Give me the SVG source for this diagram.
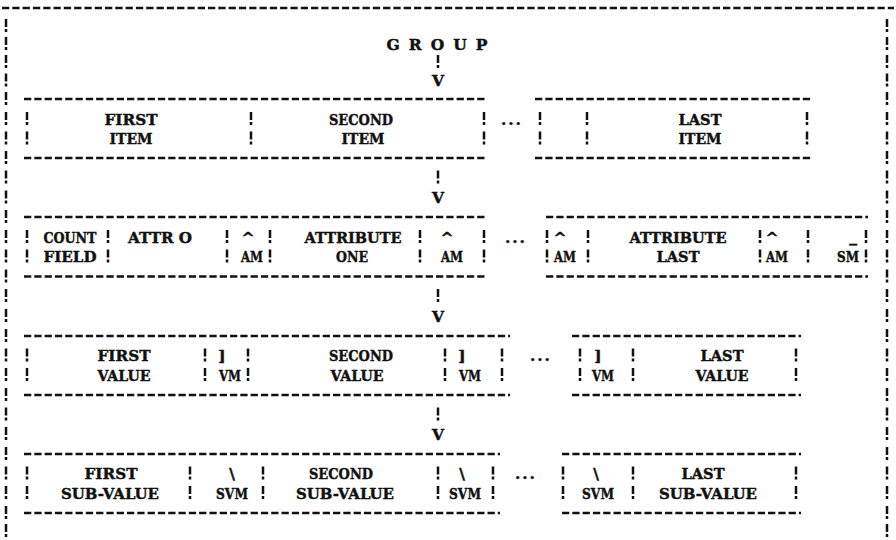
<svg xmlns="http://www.w3.org/2000/svg" width="896" height="540" viewBox="0 0 896 540">
<style>
.hd{stroke:#111;stroke-width:2.3;stroke-dasharray:7.3 3;fill:none}
.vb{stroke:#111;stroke-width:2.5;stroke-dasharray:8 2 3 6.5;fill:none}
.bm{stroke:#111;stroke-width:2.5;fill:none}
.t{font-family:"DejaVu Serif","Liberation Serif",serif;font-weight:bold;font-size:15.5px;fill:#111;stroke:#111;stroke-width:0.45;text-anchor:middle}
</style>
<defs>
<path id="m" class="bm" d="M0,-7V1M0,3V6"/>
</defs>
<rect width="896" height="540" fill="#fff"/>
<g id="frame">
<line class="hd" x1="2" y1="8" x2="894" y2="8"/>
<g id="border-left">
<use href="#m" x="6" y="26"/><use href="#m" x="6" y="44"/><use href="#m" x="6" y="62"/><use href="#m" x="6" y="80.5"/><use href="#m" x="6" y="99"/><use href="#m" x="6" y="119"/><use href="#m" x="6" y="138.5"/><use href="#m" x="6" y="158"/><use href="#m" x="6" y="177.5"/><use href="#m" x="6" y="197.5"/><use href="#m" x="6" y="217"/><use href="#m" x="6" y="237"/><use href="#m" x="6" y="256.5"/><use href="#m" x="6" y="276.5"/><use href="#m" x="6" y="296"/><use href="#m" x="6" y="316"/><use href="#m" x="6" y="336"/><use href="#m" x="6" y="355.5"/><use href="#m" x="6" y="375"/><use href="#m" x="6" y="395"/><use href="#m" x="6" y="414.5"/><use href="#m" x="6" y="434"/><use href="#m" x="6" y="454"/><use href="#m" x="6" y="473.5"/><use href="#m" x="6" y="493"/><use href="#m" x="6" y="513"/><use href="#m" x="6" y="531"/>
</g>
<g id="border-right">
<use href="#m" x="887" y="26"/><use href="#m" x="887" y="44"/><use href="#m" x="887" y="62"/><use href="#m" x="887" y="80.5"/><use href="#m" x="887" y="99"/><use href="#m" x="887" y="119"/><use href="#m" x="887" y="138.5"/><use href="#m" x="887" y="158"/><use href="#m" x="887" y="177.5"/><use href="#m" x="887" y="197.5"/><use href="#m" x="887" y="217"/><use href="#m" x="887" y="237"/><use href="#m" x="887" y="256.5"/><use href="#m" x="887" y="276.5"/><use href="#m" x="887" y="296"/><use href="#m" x="887" y="316"/><use href="#m" x="887" y="336"/><use href="#m" x="887" y="355.5"/><use href="#m" x="887" y="375"/><use href="#m" x="887" y="395"/><use href="#m" x="887" y="414.5"/><use href="#m" x="887" y="434"/><use href="#m" x="887" y="454"/><use href="#m" x="887" y="473.5"/><use href="#m" x="887" y="493"/><use href="#m" x="887" y="513"/><use href="#m" x="887" y="531"/>
</g>
</g>
<g id="group-title">
<text class="t" x="437" y="49.5" textLength="101" lengthAdjust="spacing">G R O U P</text>
</g>
<g id="connectors">
<use href="#m" x="438" y="62"/>
<text class="t" x="438" y="86">V</text>
<use href="#m" x="438" y="177.5"/>
<text class="t" x="438" y="203">V</text>
<use href="#m" x="438" y="296"/>
<text class="t" x="438" y="321.5">V</text>
<use href="#m" x="438" y="414.5"/>
<text class="t" x="438" y="439.5">V</text>
</g>
<g id="item-left">
<line class="hd" x1="24" y1="99" x2="487" y2="99"/>
<line class="hd" x1="24" y1="158" x2="487" y2="158"/>
<line class="vb" x1="27" y1="112" x2="27" y2="144.5"/>
<line class="vb" x1="251" y1="112" x2="251" y2="144.5"/>
<line class="vb" x1="484" y1="112" x2="484" y2="144.5"/>
<text class="t" x="131" y="124.5" textLength="53" lengthAdjust="spacingAndGlyphs">FIRST</text>
<text class="t" x="131" y="144" textLength="43" lengthAdjust="spacingAndGlyphs">ITEM</text>
<text class="t" x="361" y="124.5" textLength="64" lengthAdjust="spacingAndGlyphs">SECOND</text>
<text class="t" x="363" y="144" textLength="43" lengthAdjust="spacingAndGlyphs">ITEM</text>
</g>
<g id="item-ellipsis"><text class="t" x="511" y="124.5" textLength="20" lengthAdjust="spacing">...</text></g>
<g id="item-right">
<line class="hd" x1="535" y1="99" x2="811" y2="99"/>
<line class="hd" x1="535" y1="158" x2="811" y2="158"/>
<line class="vb" x1="540" y1="112" x2="540" y2="144.5"/>
<line class="vb" x1="587" y1="112" x2="587" y2="144.5"/>
<line class="vb" x1="807" y1="112" x2="807" y2="144.5"/>
<text class="t" x="700" y="124.5" textLength="43" lengthAdjust="spacingAndGlyphs">LAST</text>
<text class="t" x="700" y="144" textLength="43" lengthAdjust="spacingAndGlyphs">ITEM</text>
</g>
<g id="attribute-left">
<line class="hd" x1="24" y1="217" x2="487" y2="217"/>
<line class="hd" x1="24" y1="276.5" x2="487" y2="276.5"/>
<line class="vb" x1="27" y1="230" x2="27" y2="262.5"/>
<line class="vb" x1="108" y1="230" x2="108" y2="262.5"/>
<line class="vb" x1="227" y1="230" x2="227" y2="262.5"/>
<line class="vb" x1="270" y1="230" x2="270" y2="262.5"/>
<line class="vb" x1="420" y1="230" x2="420" y2="262.5"/>
<line class="vb" x1="484" y1="230" x2="484" y2="262.5"/>
<text class="t" x="70" y="242.5" textLength="53" lengthAdjust="spacingAndGlyphs">COUNT</text>
<text class="t" x="160" y="242.5" textLength="64" lengthAdjust="spacingAndGlyphs">ATTR O</text>
<text class="t" x="248" y="242.5">^</text>
<text class="t" x="353" y="242.5" textLength="97" lengthAdjust="spacingAndGlyphs">ATTRIBUTE</text>
<text class="t" x="447" y="242.5">^</text>
<text class="t" x="70" y="262" textLength="53" lengthAdjust="spacingAndGlyphs">FIELD</text>
<text class="t" x="252" y="262" textLength="22" lengthAdjust="spacingAndGlyphs">AM</text>
<text class="t" x="352" y="262" textLength="32" lengthAdjust="spacingAndGlyphs">ONE</text>
<text class="t" x="452" y="262" textLength="22" lengthAdjust="spacingAndGlyphs">AM</text>
</g>
<g id="attribute-ellipsis"><text class="t" x="515" y="242.5" textLength="20" lengthAdjust="spacing">...</text></g>
<g id="attribute-right">
<line class="hd" x1="546" y1="217" x2="868" y2="217"/>
<line class="hd" x1="546" y1="276.5" x2="868" y2="276.5"/>
<line class="vb" x1="547" y1="230" x2="547" y2="262.5"/>
<line class="vb" x1="588" y1="230" x2="588" y2="262.5"/>
<line class="vb" x1="760" y1="230" x2="760" y2="262.5"/>
<line class="vb" x1="808" y1="230" x2="808" y2="262.5"/>
<line class="vb" x1="866" y1="230" x2="866" y2="262.5"/>
<text class="t" x="560" y="242.5">^</text>
<text class="t" x="678" y="242.5" textLength="97" lengthAdjust="spacingAndGlyphs">ATTRIBUTE</text>
<text class="t" x="772" y="242.5">^</text>
<text class="t" x="853" y="242">_</text>
<text class="t" x="565" y="262" textLength="22" lengthAdjust="spacingAndGlyphs">AM</text>
<text class="t" x="678" y="262" textLength="43" lengthAdjust="spacingAndGlyphs">LAST</text>
<text class="t" x="777" y="262" textLength="22" lengthAdjust="spacingAndGlyphs">AM</text>
<text class="t" x="848" y="262" textLength="22" lengthAdjust="spacingAndGlyphs">SM</text>
</g>
<g id="value-left">
<line class="hd" x1="24" y1="336" x2="510" y2="336"/>
<line class="hd" x1="24" y1="395" x2="510" y2="395"/>
<line class="vb" x1="27" y1="348.5" x2="27" y2="381"/>
<line class="vb" x1="205" y1="348.5" x2="205" y2="381"/>
<line class="vb" x1="248" y1="348.5" x2="248" y2="381"/>
<line class="vb" x1="445" y1="348.5" x2="445" y2="381"/>
<line class="vb" x1="502" y1="348.5" x2="502" y2="381"/>
<text class="t" x="124" y="361" textLength="53" lengthAdjust="spacingAndGlyphs">FIRST</text>
<text class="t" x="222" y="361">]</text>
<text class="t" x="361" y="361" textLength="64" lengthAdjust="spacingAndGlyphs">SECOND</text>
<text class="t" x="462" y="361">]</text>
<text class="t" x="124" y="380.5" textLength="53" lengthAdjust="spacingAndGlyphs">VALUE</text>
<text class="t" x="230" y="380.5" textLength="22" lengthAdjust="spacingAndGlyphs">VM</text>
<text class="t" x="357" y="380.5" textLength="53" lengthAdjust="spacingAndGlyphs">VALUE</text>
<text class="t" x="470" y="380.5" textLength="22" lengthAdjust="spacingAndGlyphs">VM</text>
</g>
<g id="value-ellipsis"><text class="t" x="540" y="361" textLength="20" lengthAdjust="spacing">...</text></g>
<g id="value-right">
<line class="hd" x1="572" y1="336" x2="801" y2="336"/>
<line class="hd" x1="572" y1="395" x2="801" y2="395"/>
<line class="vb" x1="580" y1="348.5" x2="580" y2="381"/>
<line class="vb" x1="633" y1="348.5" x2="633" y2="381"/>
<line class="vb" x1="796" y1="348.5" x2="796" y2="381"/>
<text class="t" x="598" y="361">]</text>
<text class="t" x="722" y="361" textLength="43" lengthAdjust="spacingAndGlyphs">LAST</text>
<text class="t" x="603" y="380.5" textLength="22" lengthAdjust="spacingAndGlyphs">VM</text>
<text class="t" x="722" y="380.5" textLength="53" lengthAdjust="spacingAndGlyphs">VALUE</text>
</g>
<g id="subvalue-left">
<line class="hd" x1="24" y1="454" x2="500" y2="454"/>
<line class="hd" x1="24" y1="513" x2="500" y2="513"/>
<line class="vb" x1="27" y1="466.5" x2="27" y2="499"/>
<line class="vb" x1="190" y1="466.5" x2="190" y2="499"/>
<line class="vb" x1="263" y1="466.5" x2="263" y2="499"/>
<line class="vb" x1="438" y1="466.5" x2="438" y2="499"/>
<line class="vb" x1="493" y1="466.5" x2="493" y2="499"/>
<text class="t" x="111" y="479" textLength="53" lengthAdjust="spacingAndGlyphs">FIRST</text>
<text class="t" x="232" y="479">\</text>
<text class="t" x="341" y="479" textLength="64" lengthAdjust="spacingAndGlyphs">SECOND</text>
<text class="t" x="462" y="479">\</text>
<text class="t" x="110" y="498.5" textLength="98" lengthAdjust="spacingAndGlyphs">SUB-VALUE</text>
<text class="t" x="232" y="498.5" textLength="32" lengthAdjust="spacingAndGlyphs">SVM</text>
<text class="t" x="345" y="498.5" textLength="98" lengthAdjust="spacingAndGlyphs">SUB-VALUE</text>
<text class="t" x="465" y="498.5" textLength="32" lengthAdjust="spacingAndGlyphs">SVM</text>
</g>
<g id="subvalue-ellipsis"><text class="t" x="525" y="479" textLength="20" lengthAdjust="spacing">...</text></g>
<g id="subvalue-right">
<line class="hd" x1="562" y1="454" x2="801" y2="454"/>
<line class="hd" x1="562" y1="513" x2="801" y2="513"/>
<line class="vb" x1="563" y1="466.5" x2="563" y2="499"/>
<line class="vb" x1="633" y1="466.5" x2="633" y2="499"/>
<line class="vb" x1="796" y1="466.5" x2="796" y2="499"/>
<text class="t" x="596" y="479">\</text>
<text class="t" x="703" y="479" textLength="43" lengthAdjust="spacingAndGlyphs">LAST</text>
<text class="t" x="598" y="498.5" textLength="32" lengthAdjust="spacingAndGlyphs">SVM</text>
<text class="t" x="708" y="498.5" textLength="98" lengthAdjust="spacingAndGlyphs">SUB-VALUE</text>
</g>
</svg>
